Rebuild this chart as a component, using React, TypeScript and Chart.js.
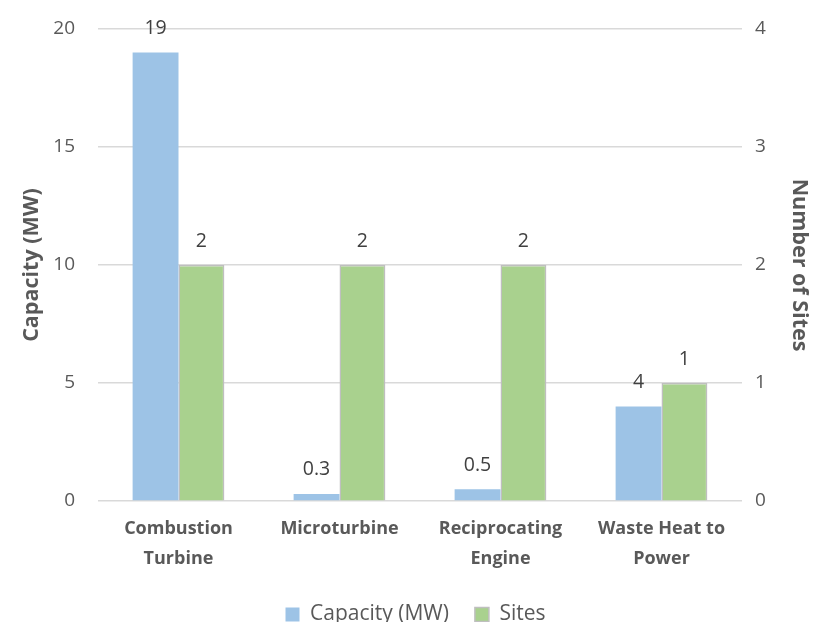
import React, { useEffect, useRef } from "react";
import { Chart, registerables } from "chart.js";

Chart.register(...registerables);

const categories: string[][] = [
  ["Combustion", "Turbine"],
  ["Microturbine"],
  ["Reciprocating", "Engine"],
  ["Waste Heat to", "Power"],
];
const capacityMW: number[] = [19, 0.3, 0.5, 4];
const sites: number[] = [2, 2, 2, 1];
const capacityTicks: number[] = [0, 5, 10, 15, 20];
const siteTicks: number[] = [0, 1, 2, 3, 4];

const FONT = "'Open Sans', 'DejaVu Sans', sans-serif";
const GREY = "#595959";

// Writes each bar's value just above its top edge
const valueLabels = {
  id: "valueLabels",
  afterDatasetsDraw(chart: any) {
    const ctx = chart.ctx;
    ctx.save();
    ctx.font = `19.5px ${FONT}`;
    ctx.fillStyle = "#404040";
    ctx.textAlign = "center";
    ctx.textBaseline = "middle";
    chart.data.datasets.forEach((ds: any, i: number) => {
      const meta = chart.getDatasetMeta(i);
      meta.data.forEach((bar: any, j: number) => {
        ctx.fillText(String(ds.data[j]), bar.x, bar.y - 24);
      });
    });
    ctx.restore();
  },
};

export default function App() {
  const ref = useRef<HTMLCanvasElement>(null);

  useEffect(() => {
    document.body.style.margin = "0";
    const chart = new Chart(ref.current!, {
      type: "bar",
      data: {
        labels: categories,
        datasets: [
          {
            label: "Capacity (MW)",
            data: capacityMW,
            backgroundColor: "#9DC3E6",
            borderColor: "#9DC3E6",
            borderWidth: 0,
            yAxisID: "y",
            categoryPercentage: 0.57,
            barPercentage: 1,
          },
          {
            label: "Sites",
            data: sites,
            backgroundColor: "#A9D18E",
            borderColor: "#BFBFBF",
            borderWidth: 1.5,
            yAxisID: "y1",
            categoryPercentage: 0.57,
            barPercentage: 1,
          },
        ],
      },
      options: {
        animation: false,
        responsive: false,
        layout: { padding: { left: 19, right: 18, top: 29, bottom: -13 } },
        plugins: {
          tooltip: { enabled: false },
          legend: {
            position: "bottom",
            labels: {
              font: { family: FONT, size: 21 },
              color: GREY,
              boxWidth: 14,
              boxHeight: 14,
              padding: 26,
            },
          },
        },
        scales: {
          x: {
            grid: { display: false },
            border: { display: false },
            ticks: {
              font: { family: FONT, size: 18, weight: "bold", lineHeight: 1.65 },
              color: GREY,
              padding: 5,
              maxRotation: 0,
            },
            afterFit(scale: any) {
              scale.height = 77;
            },
          },
          y: {
            position: "left",
            min: 0,
            max: 20,
            afterBuildTicks(scale: any) {
              scale.ticks = capacityTicks.map((v) => ({ value: v }));
            },
            grid: { color: "#D9D9D9", lineWidth: 1.5, drawTicks: false },
            border: { display: false },
            ticks: { font: { family: FONT, size: 19 }, color: GREY, padding: 23 },
            title: {
              display: true,
              text: "Capacity (MW)",
              font: { family: FONT, size: 21.5, weight: "bold" },
              color: GREY,
              padding: 0,
            },
            afterFit(scale: any) {
              scale.width = 79;
              scale.paddingTop = 0;
            },
          },
          y1: {
            position: "right",
            min: 0,
            max: 4,
            afterBuildTicks(scale: any) {
              scale.ticks = siteTicks.map((v) => ({ value: v }));
            },
            grid: { drawOnChartArea: false, drawTicks: false },
            border: { display: false },
            ticks: { font: { family: FONT, size: 19 }, color: GREY, padding: 13 },
            title: {
              display: true,
              text: "Number of Sites",
              font: { family: FONT, size: 21.5, weight: "bold" },
              color: GREY,
              padding: 0,
            },
            afterFit(scale: any) {
              scale.width = 70;
              scale.paddingTop = 0;
            },
          },
        },
      },
      plugins: [valueLabels],
    });
    return () => chart.destroy();
  }, []);

  return (
    <div style={{ position: "absolute", left: 0, top: 0, width: 830, height: 622, background: "#fff" }}>
      <canvas ref={ref} width={830} height={622} />
    </div>
  );
}
